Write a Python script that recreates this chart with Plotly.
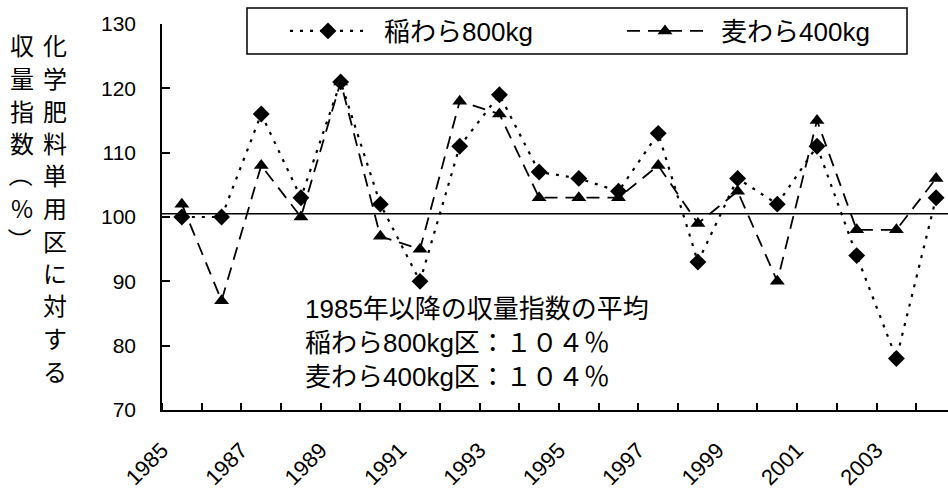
import plotly.graph_objects as go

# Yield index relative to the chemical-fertilizer-only plot (%)
years = list(range(1985, 2005))
rice_straw_800kg = [100, 100, 116, 103, 121, 102, 90, 111, 119, 107,
                    106, 104, 113, 93, 106, 102, 111, 94, 78, 103]
wheat_straw_400kg = [102, 87, 108, 100, 121, 97, 95, 118, 116, 103,
                     103, 103, 108, 99, 104, 90, 115, 98, 98, 106]
series_names = ["稲わら800kg", "麦わら400kg"]

tick_years = list(range(1985, 2004, 2))
tick_labels = [str(y) for y in tick_years]
category_edges = [y - 0.5 for y in range(1985, 2006)]
y_ticks = [70, 80, 90, 100, 110, 120, 130]
reference_level = 100.5

title_inner = "化学肥料単用区に対する"
title_outer = ["収", "量", "指", "数", "（", "%", "）"]
note_lines = ["1985年以降の収量指数の平均",
              "稲わら800kg区：１０４％",
              "麦わら400kg区：１０４％"]

FONT = "Liberation Sans, Arial, Noto Sans CJK JP"
CJK = "Noto Sans CJK JP"
W, H = 948, 491
ML, MT, MB = 162, 24, 81
plot_h = H - MT - MB
plot_w = W - ML


def px_to_paper(px, py):
    return (px - ML) / plot_w, (H - MB - py) / plot_h


fig = go.Figure()
fig.add_trace(go.Scatter(
    x=years, y=rice_straw_800kg, name="\u2002" + series_names[0],
    mode="lines+markers",
    line=dict(color="black", width=2.2, dash="3px,7px"),
    marker=dict(symbol="diamond", size=13, color="black"),
    legend="legend",
))
fig.add_trace(go.Scatter(
    x=years, y=wheat_straw_400kg, name="\u2002" + series_names[1],
    mode="lines+markers",
    line=dict(color="black", width=1.8, dash="13px,8px"),
    marker=dict(symbol="triangle-up", size=13, color="black"),
    legend="legend2",
))

fig.add_shape(type="line", xref="paper", x0=0, x1=1, yref="y",
              y0=reference_level, y1=reference_level,
              line=dict(color="black", width=1.5), layer="below")

# frame around the two legend entries
bx0, by0 = px_to_paper(247, 54)
bx1, by1 = px_to_paper(907, 8)
fig.add_shape(type="rect", xref="paper", yref="paper",
              x0=bx0, x1=bx1, y0=by0, y1=by1,
              line=dict(color="black", width=1.5), fillcolor="white",
              layer="below")

# vertical axis title, one glyph per row; brackets turned for vertical writing
for col_x, glyphs in ((55, list(title_inner)), (22, title_outer)):
    for i, ch in enumerate(glyphs):
        x, y = px_to_paper(col_x, 45 + i * 32.5)
        fig.add_annotation(text=ch, xref="paper", yref="paper", x=x, y=y,
                           showarrow=False, xanchor="center", yanchor="middle",
                           textangle=90 if ch in "（）" else 0,
                           font=dict(family=CJK, size=24, color="black"))

nx, ny = px_to_paper(303, 343)
fig.add_annotation(text="<br>".join(note_lines), xref="paper", yref="paper",
                   x=nx, y=ny, showarrow=False, xanchor="left", yanchor="middle",
                   align="left", font=dict(family=FONT, size=26, color="black"))

l1x, ly = px_to_paper(285, 31)
l2x, _ = px_to_paper(622, 31)
legend_style = dict(orientation="h", y=ly, xanchor="left", yanchor="middle",
                    bgcolor="rgba(0,0,0,0)", borderwidth=0,
                    font=dict(family=FONT, size=26, color="black"),
                    itemwidth=76)

fig.update_layout(
    width=W, height=H,
    margin=dict(l=ML, r=0, t=MT, b=MB, autoexpand=False),
    paper_bgcolor="white", plot_bgcolor="white",
    font=dict(family=FONT, color="black"),
    showlegend=True,
    legend=dict(x=l1x, **legend_style),
    legend2=dict(x=l2x, **legend_style),
    xaxis=dict(range=[1984.5, 2004.3], showgrid=False, zeroline=False,
               automargin=False,
               showline=True, linecolor="black", linewidth=1.5,
               tickmode="array", tickvals=tick_years, ticktext=tick_labels,
               ticks="", tickangle=-45, ticklabelshift=-20, ticklabelstandoff=17,
               tickfont=dict(family=FONT, size=22, color="black"),
               minor=dict(tickmode="array", tickvals=category_edges,
                          ticks="inside", ticklen=7, tickwidth=1.5,
                          tickcolor="black", showgrid=False)),
    yaxis=dict(range=[70, 130], showgrid=False, zeroline=False,
               automargin=False,
               showline=True, linecolor="black", linewidth=1.5,
               tickmode="array", tickvals=y_ticks,
               ticks="inside", ticklen=8, tickwidth=1.5, tickcolor="black",
               ticklabelstandoff=20,
               tickfont=dict(family=FONT, size=21, color="black")),
)

fig.write_html("out.html")
